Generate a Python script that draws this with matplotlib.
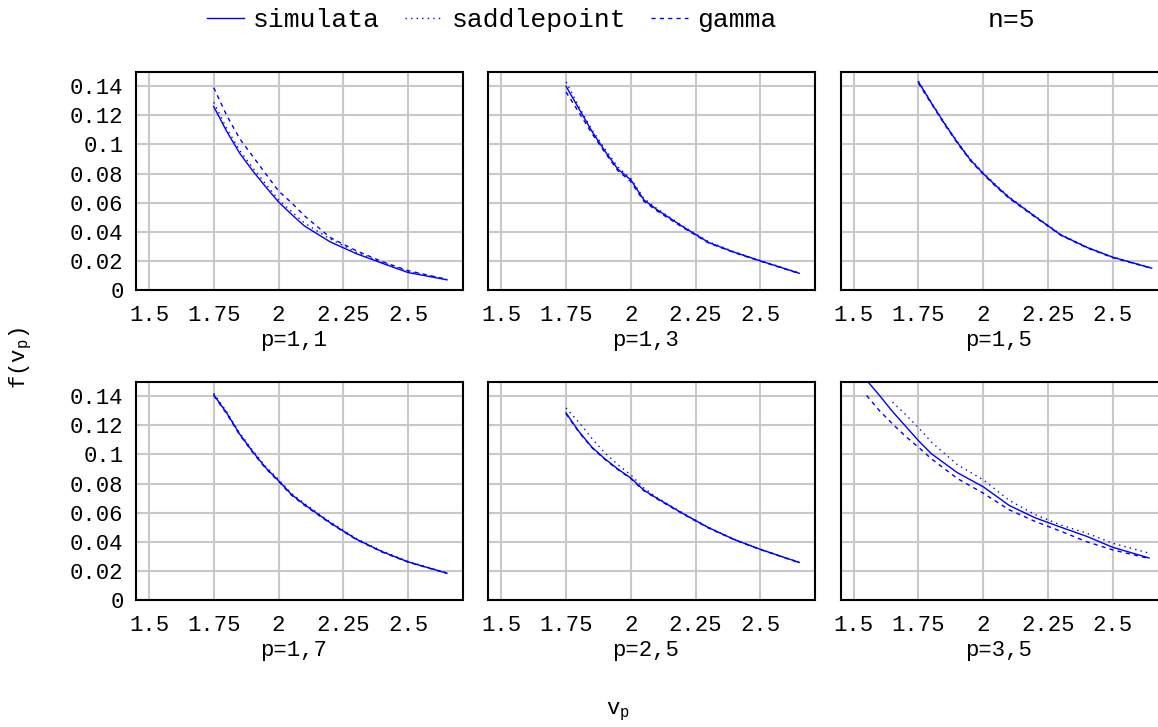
import numpy as np
import matplotlib
matplotlib.use("Agg")
import matplotlib.pyplot as plt
from matplotlib.ticker import MultipleLocator, FormatStrFormatter

plt.rcParams["font.family"] = ["Liberation Mono", "DejaVu Sans Mono"]
plt.rcParams["mathtext.fontset"] = "custom"
plt.rcParams["mathtext.rm"] = "Liberation Mono"
plt.rcParams["mathtext.it"] = "Liberation Mono"

# x grid (v_p) shared by the first five panels
vp = [1.75, 1.8, 1.85, 1.9, 1.95, 2.0, 2.05, 2.1, 2.2, 2.3, 2.4, 2.5, 2.65]
vp_35 = [1.55, 1.6, 1.65, 1.7, 1.75, 1.8, 1.9, 2.0, 2.1, 2.2, 2.3, 2.4, 2.5, 2.64]

# p=1,1
sim_11 = [0.126, 0.109, 0.094, 0.082, 0.071, 0.0605, 0.052, 0.044, 0.033, 0.025, 0.0184, 0.012, 0.007]
sad_11 = [0.129, 0.111, 0.096, 0.084, 0.073, 0.062, 0.054, 0.046, 0.035, 0.026, 0.019, 0.0125, 0.0072]
gam_11 = [0.139, 0.120, 0.104, 0.092, 0.080, 0.068, 0.060, 0.051, 0.036, 0.027, 0.0195, 0.0133, 0.0073]
# p=1,3
sim_13 = [0.140, 0.1245, 0.109, 0.0955, 0.083, 0.0757, 0.062, 0.0553, 0.0436, 0.0327, 0.0259, 0.020, 0.0115]
sad_13 = [0.143, 0.126, 0.110, 0.097, 0.0845, 0.0765, 0.063, 0.056, 0.044, 0.0332, 0.0262, 0.0202, 0.0117]
gam_13 = [0.136, 0.122, 0.1075, 0.0945, 0.082, 0.0745, 0.061, 0.0545, 0.043, 0.0323, 0.0256, 0.0198, 0.0113]
# p=1,5
sim_15 = [0.143, 0.1285, 0.1145, 0.1015, 0.0895, 0.080, 0.0715, 0.0635, 0.0505, 0.0378, 0.0293, 0.0225, 0.0150]
sad_15 = [0.1435, 0.129, 0.115, 0.102, 0.090, 0.0806, 0.072, 0.0640, 0.0509, 0.0381, 0.0296, 0.0227, 0.0151]
gam_15 = [0.142, 0.128, 0.114, 0.101, 0.089, 0.0795, 0.0709, 0.0630, 0.0501, 0.0375, 0.0290, 0.0222, 0.0149]
# p=1,7
sim_17 = [0.141, 0.1285, 0.114, 0.102, 0.091, 0.082, 0.0725, 0.0656, 0.053, 0.0418, 0.0332, 0.0262, 0.0184]
sad_17 = [0.142, 0.1293, 0.1148, 0.1028, 0.0918, 0.0828, 0.0733, 0.0663, 0.0536, 0.0423, 0.0336, 0.0265, 0.0186]
gam_17 = [0.1405, 0.128, 0.1135, 0.1015, 0.0905, 0.0815, 0.072, 0.0651, 0.0526, 0.0415, 0.0329, 0.0260, 0.0183]
# p=2,5
sim_25 = [0.1285, 0.1157, 0.105, 0.097, 0.090, 0.0838, 0.0755, 0.070, 0.0595, 0.0497, 0.0415, 0.0348, 0.0258]
sad_25 = [0.132, 0.122, 0.111, 0.101, 0.093, 0.086, 0.077, 0.0705, 0.0598, 0.0499, 0.0417, 0.0349, 0.0259]
gam_25 = [0.128, 0.1152, 0.1046, 0.0966, 0.0896, 0.0834, 0.0751, 0.0696, 0.0592, 0.0494, 0.0413, 0.0346, 0.0256]
# p=3,5
sim_35 = [0.151, 0.1405, 0.1295, 0.1195, 0.1095, 0.1005, 0.0875, 0.0778, 0.065, 0.0565, 0.050, 0.0437, 0.0362, 0.0289]
sad_35 = [np.nan, np.nan, 0.136, 0.1275, 0.1185, 0.1085, 0.093, 0.0826, 0.0685, 0.0587, 0.0515, 0.0459, 0.039, 0.0322]
gam_35 = [0.1405, 0.130, 0.121, 0.1125, 0.1050, 0.0970, 0.0835, 0.0734, 0.0620, 0.0540, 0.0472, 0.040, 0.0344, 0.0285]

panel_labels = ["p=1,1", "p=1,3", "p=1,5", "p=1,7", "p=2,5", "p=3,5"]
panel_x = [vp, vp, vp, vp, vp, vp_35]
panel_sim = [sim_11, sim_13, sim_15, sim_17, sim_25, sim_35]
panel_sad = [sad_11, sad_13, sad_15, sad_17, sad_25, sad_35]
panel_gam = [gam_11, gam_13, gam_15, gam_17, gam_25, gam_35]

series_names = ["simulata", "saddlepoint", "gamma"]

BLUE = "#0000ff"
W, H = 1158, 727
fig = plt.figure(figsize=(W / 100, H / 100), dpi=100)

col_left = [136, 488.3, 840.7]
row_bottom = [290, 600]
ax_w, ax_h = 326.5, 218.3

for i, label in enumerate(panel_labels):
    r, c = divmod(i, 3)
    ax = fig.add_axes([col_left[c] / W, 1 - row_bottom[r] / H, ax_w / W, ax_h / H])
    x = panel_x[i]
    h1, = ax.plot(x, panel_sim[i], color=BLUE, lw=1.0)
    h2, = ax.plot(x, panel_sad[i], color=BLUE, lw=1.0, linestyle=(0, (1, 3)))
    h3, = ax.plot(x, panel_gam[i], color=BLUE, lw=1.0, linestyle=(0, (3, 3)))

    ax.set_xlim(1.45, 2.71)
    ax.set_ylim(0, 0.15)
    ax.xaxis.set_major_locator(MultipleLocator(0.25))
    ax.yaxis.set_major_locator(MultipleLocator(0.02))
    ax.xaxis.set_major_formatter(FormatStrFormatter("%g"))
    ax.yaxis.set_major_formatter(FormatStrFormatter("%g"))
    ax.grid(True, color="#c8c8c8", lw=1.5)
    ax.set_axisbelow(True)
    ax.tick_params(length=0, labelsize=16)
    ax.tick_params(axis="x", pad=11)
    ax.tick_params(axis="y", pad=9)
    if c != 0:
        ax.tick_params(axis="y", labelleft=False)
    for sp in ax.spines.values():
        sp.set_linewidth(1.5)
        sp.set_color("black")
    ax.set_xlabel(label, fontsize=16, labelpad=3)
    ax.xaxis.label.set_x(0.482)
    if i == 0:
        handles = [h1, h2, h3]

fig.legend(handles, series_names, loc="center left", bbox_to_anchor=(207 / W, 1 - 20 / H),
           ncol=3, frameon=False, fontsize=19, handlelength=1.4, handletextpad=0.35,
           columnspacing=0.95, borderpad=0, borderaxespad=0)
fig.text(1012 / W, 1 - 20 / H, "n=5", ha="center", va="center", fontsize=19)

fig.text(21 / W, 1 - 358 / H, r"f(v$_\mathrm{p}$)", rotation=90, ha="center", va="center", fontsize=16)
fig.text(618 / W, 1 - 712 / H, r"v$_\mathrm{p}$", ha="center", va="center", fontsize=16)

fig.savefig("out.png", dpi=100)
plt.close("all")
